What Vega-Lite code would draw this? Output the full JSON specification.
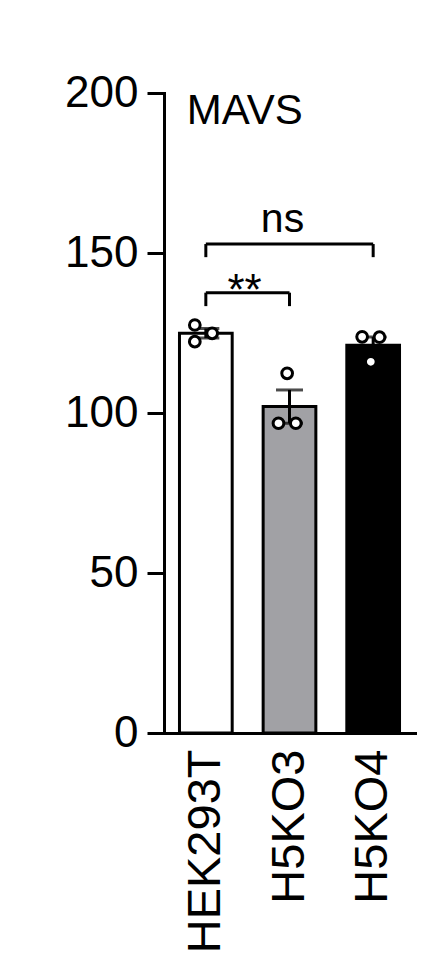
{
  "$schema": "https://vega.github.io/schema/vega-lite/v6.json",
  "autosize": "none",
  "padding": {"left": 164, "top": 93, "right": 32, "bottom": 239},
  "width": 251,
  "height": 640,
  "background": "white",
  "datasets": {
    "cells": [
      {"cell": "HEK293T", "rep": "L", "value": 127.5},
      {"cell": "HEK293T", "rep": "L", "value": 122.3},
      {"cell": "HEK293T", "rep": "R", "value": 124.9},
      {"cell": "H5KO3", "rep": "C", "value": 112.4},
      {"cell": "H5KO3", "rep": "L", "value": 96.8},
      {"cell": "H5KO3", "rep": "R", "value": 96.8},
      {"cell": "H5KO4", "rep": "L", "value": 123.8},
      {"cell": "H5KO4", "rep": "R", "value": 123.7},
      {"cell": "H5KO4", "rep": "C", "value": 116.0}
    ],
    "brackets": [
      {"from": "HEK293T", "to": "H5KO4", "top": 152.8, "foot": 148.7},
      {"from": "HEK293T", "to": "H5KO3", "top": 137.6, "foot": 133.4}
    ]
  },
  "resolve": {"scale": {"xOffset": "independent"}},
  "layer": [
    {
      "data": {"name": "cells"},
      "mark": {"type": "bar", "stroke": "black", "strokeWidth": 3},
      "encoding": {
        "x": {
          "field": "cell",
          "type": "nominal",
          "scale": {
            "domain": ["HEK293T", "H5KO3", "H5KO4"],
            "paddingInner": 0.37,
            "paddingOuter": 0.185
          },
          "axis": {"title": null}
        },
        "y": {
          "aggregate": "mean",
          "field": "value",
          "type": "quantitative",
          "scale": {"domain": [0, 200], "nice": false},
          "axis": {"title": null, "values": [0, 50, 100, 150, 200]}
        },
        "fill": {
          "field": "cell",
          "type": "nominal",
          "scale": {
            "domain": ["HEK293T", "H5KO3", "H5KO4"],
            "range": ["white", "#a1a1a5", "black"]
          },
          "legend": null
        }
      }
    },
    {
      "data": {"name": "cells"},
      "mark": {
        "type": "errorbar",
        "extent": "stderr",
        "color": "black",
        "thickness": 3,
        "ticks": {"size": 27}
      },
      "encoding": {
        "x": {"field": "cell", "type": "nominal"},
        "y": {"field": "value", "type": "quantitative"}
      }
    },
    {
      "data": {"name": "cells"},
      "mark": {
        "type": "point",
        "shape": "circle",
        "filled": true,
        "fill": "white",
        "stroke": "black",
        "strokeWidth": 3,
        "size": 115,
        "opacity": 1
      },
      "encoding": {
        "x": {"field": "cell", "type": "nominal"},
        "xOffset": {
          "field": "rep",
          "type": "nominal",
          "scale": {"type": "point", "domain": ["L", "C", "R"], "range": [11, 37]}
        },
        "y": {"field": "value", "type": "quantitative"}
      }
    },
    {
      "data": {"name": "brackets"},
      "mark": {"type": "rule", "color": "black", "strokeWidth": 3},
      "encoding": {
        "x": {"field": "from", "type": "nominal"},
        "x2": {"field": "to"},
        "y": {"field": "top", "type": "quantitative"}
      }
    },
    {
      "data": {"name": "brackets"},
      "mark": {"type": "rule", "color": "black", "strokeWidth": 3},
      "encoding": {
        "x": {"field": "from", "type": "nominal"},
        "y": {"field": "top", "type": "quantitative"},
        "y2": {"field": "foot"}
      }
    },
    {
      "data": {"name": "brackets"},
      "mark": {"type": "rule", "color": "black", "strokeWidth": 3},
      "encoding": {
        "x": {"field": "to", "type": "nominal"},
        "y": {"field": "top", "type": "quantitative"},
        "y2": {"field": "foot"}
      }
    },
    {
      "data": {"values": [{"label": "MAVS", "cell": "HEK293T", "y": 190.3}]},
      "mark": {"type": "text", "align": "left", "baseline": "alphabetic", "dx": -19, "fontSize": 42, "font": "Liberation Sans"},
      "encoding": {
        "x": {"field": "cell", "type": "nominal"},
        "y": {"field": "y", "type": "quantitative"},
        "text": {"field": "label"}
      }
    },
    {
      "data": {"values": [{"label": "ns", "cell": "H5KO3", "y": 156.7}]},
      "mark": {"type": "text", "align": "center", "baseline": "alphabetic", "dx": -7, "fontSize": 41, "font": "Liberation Sans"},
      "encoding": {
        "x": {"field": "cell", "type": "nominal"},
        "y": {"field": "y", "type": "quantitative"},
        "text": {"field": "label"}
      }
    },
    {
      "data": {"values": [{"label": "**", "cell": "H5KO3", "y": 133.9}]},
      "mark": {"type": "text", "align": "center", "baseline": "alphabetic", "dx": -45, "fontSize": 44, "font": "Liberation Sans"},
      "encoding": {
        "x": {"field": "cell", "type": "nominal"},
        "y": {"field": "y", "type": "quantitative"},
        "text": {"field": "label"}
      }
    }
  ],
  "config": {
    "view": {"stroke": null},
    "font": "Liberation Sans",
    "axis": {
      "grid": false,
      "domainColor": "black",
      "domainWidth": 3,
      "domainCap": "square",
      "tickColor": "black",
      "tickWidth": 3,
      "labelColor": "black",
      "labelFont": "Liberation Sans",
      "labelLimit": 400
    },
    "axisY": {"tickSize": 17, "labelFontSize": 44, "labelPadding": 9},
    "axisX": {"ticks": false, "labelAngle": -90, "labelFontSize": 47, "labelPadding": 16}
  }
}
